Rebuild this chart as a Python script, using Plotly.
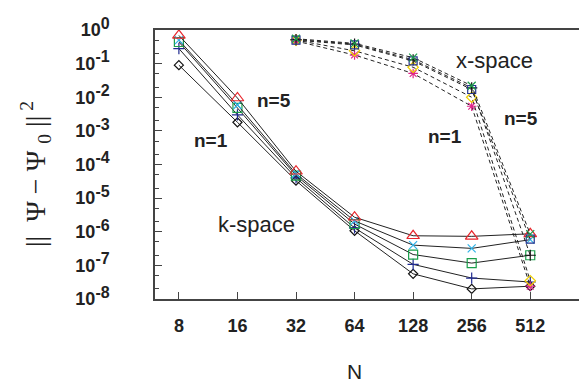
import plotly.graph_objects as go

# ---------------- data ----------------
N_k = [8, 16, 32, 64, 128, 256, 512]
k_n1 = [0.09, 0.0018, 3.3e-5, 1.07e-6, 5.6e-8, 2.0e-8, 2.4e-8]      # diamond
k_n2 = [0.28, 0.0030, 4.0e-5, 1.3e-6, 1.07e-7, 4.2e-8, 3.2e-8]      # plus
k_n3 = [0.44, 0.0048, 4.7e-5, 1.7e-6, 2.1e-7, 1.17e-7, 2.0e-7]      # square
k_n4 = [0.50, 0.0059, 5.3e-5, 2.1e-6, 4.0e-7, 3.2e-7, 5.8e-7]      # x
k_n5 = [0.69, 0.0095, 6.3e-5, 2.7e-6, 7.6e-7, 7.3e-7, 8.7e-7]      # triangle

N_x = [32, 64, 128, 256, 512]
x_n1 = [0.47, 0.18, 0.051, 0.0054, 2.4e-8]    # magenta asterisk
x_n2 = [0.50, 0.24, 0.078, 0.010, 3.5e-8]     # yellow diamond
x_n3 = [0.52, 0.38, 0.13, 0.019, 2.0e-7]      # black plus
x_n4 = [0.50, 0.36, 0.12, 0.017, 6.0e-7]      # blue square
x_n5 = [0.55, 0.40, 0.15, 0.022, 8.5e-7]      # green x

x_ticks = [8, 16, 32, 64, 128, 256, 512]
y_exps = [0, -1, -2, -3, -4, -5, -6, -7, -8]
y_ticks = [10.0 ** e for e in y_exps]
y_ticktext = ["<b>10<sup><span style='font-size:16px'>%d</span></sup>&nbsp;&nbsp;&nbsp;&nbsp;</b>" % e
              for e in y_exps]

SANS = "Liberation Sans, Arial, sans-serif"

fig = go.Figure()

k_series = [
    (k_n1, "diamond-open", "#111111", 7),
    (k_n2, "cross-thin-open", "#1f2a90", 8),
    (k_n3, "square-open", "#1a9e4a", 9),
    (k_n4, "x-thin-open", "#2fb3e8", 8),
    (k_n5, "triangle-up-open", "#e8262c", 11),
]
for ys, sym, col, sz in k_series:
    fig.add_trace(go.Scatter(
        x=N_k, y=ys, mode="lines+markers",
        line=dict(color="#222222", width=1),
        marker=dict(symbol=sym, size=sz, color=col, line=dict(color=col, width=1.2)),
        showlegend=False, hoverinfo="skip"))

x_series = [
    (x_n1, "asterisk-open", "#e0248a", 8),
    (x_n2, "diamond-open", "#f0d000", 8),
    (x_n3, "cross-thin-open", "#111111", 8),
    (x_n4, "square-open", "#26358f", 8),
    (x_n5, "x-thin-open", "#1a9e4a", 8),
]
for ys, sym, col, sz in x_series:
    fig.add_trace(go.Scatter(
        x=N_x, y=ys, mode="lines+markers",
        line=dict(color="#222222", width=1, dash="4px,3px"),
        marker=dict(symbol=sym, size=sz, color=col, line=dict(color=col, width=1.2)),
        showlegend=False, hoverinfo="skip"))

ann_font_b = dict(family=SANS, size=19, color="#222222", weight="bold")
ann_font = dict(family=SANS, size=22, color="#222222")
anns = [
    ("n=5", 0.277, 0.737, ann_font_b),
    ("n=1", 0.129, 0.589, ann_font_b),
    ("k-space", 0.236, 0.278, ann_font),
    ("x-space", 0.788, 0.885, ann_font),
    ("n=1", 0.672, 0.604, ann_font_b),
    ("n=5", 0.850, 0.670, ann_font_b),
]
for t, xp, yp, f in anns:
    fig.add_annotation(text=t, x=xp, y=yp, xref="paper", yref="paper",
                       showarrow=False, font=f, xanchor="center", yanchor="middle")

# axis titles
fig.add_annotation(text="N", x=(347 - 147) / 433, y=(291 - 364) / 270,
                   xref="paper", yref="paper", showarrow=False,
                   font=dict(family=SANS, size=21, color="#222222"),
                   xanchor="center", yanchor="middle")
fig.add_annotation(text="||  \u03a8 \u2212 \u03a8 <sub>0</sub> ||<sup> 2</sup>",
                   x=(27 - 147) / 433, y=(291 - 166) / 270,
                   xref="paper", yref="paper", showarrow=False, textangle=-90,
                   font=dict(family="Liberation Serif, Times New Roman, serif", size=28, color="#222222"),
                   xanchor="center", yanchor="middle")

l2_lo, l2_hi = 2.592, 9.952
fig.update_xaxes(
    type="log", range=[l2_lo * 0.30103, l2_hi * 0.30103],
    tickvals=x_ticks, ticktext=["<b>%d</b>" % v for v in x_ticks],
    tickfont=dict(family=SANS, size=18, color="#222222"),
    ticks="inside", ticklen=7, tickwidth=1.2, tickcolor="#444444",
    showline=True, linecolor="#444444", linewidth=1.5, mirror=True,
    showgrid=False, zeroline=False, ticklabelstandoff=10)
fig.update_yaxes(
    type="log", range=[-8, 0],
    tickvals=y_ticks, ticktext=y_ticktext,
    tickfont=dict(family=SANS, size=18, color="#222222"),
    ticks="inside", ticklen=7, tickwidth=1.2, tickcolor="#444444",
    minor=dict(dtick="D2", ticks="inside", ticklen=4, tickcolor="#444444", tickwidth=1),
    showline=True, linecolor="#444444", linewidth=1.5, mirror="ticks",
    showgrid=False, zeroline=False, ticklabelstandoff=20)

fig.update_layout(
    width=587, height=382,
    margin=dict(l=147, r=7, t=21, b=91),
    paper_bgcolor="white", plot_bgcolor="white",
)

fig.write_html("out.html")
